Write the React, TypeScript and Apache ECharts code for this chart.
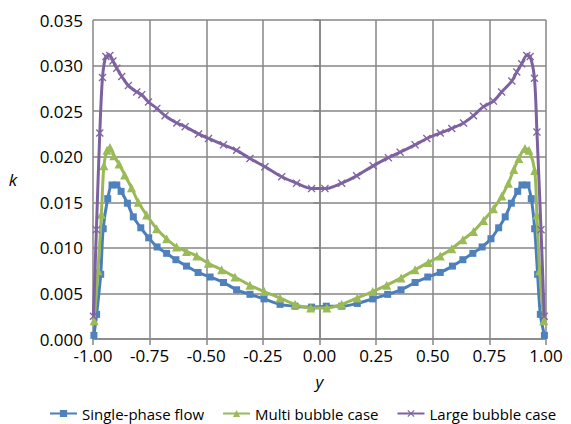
import React, { useEffect, useRef } from "react";
import * as echarts from "echarts";

const singleY = [-0.996, -0.984, -0.966, -0.955, -0.935, -0.916, -0.895, -0.876, -0.848, -0.822, -0.789, -0.754, -0.717, -0.675, -0.634, -0.587, -0.536, -0.483, -0.424, -0.366, -0.307, -0.245, -0.174, -0.108, -0.035, 0.03, 0.098, 0.167, 0.235, 0.301, 0.36, 0.422, 0.478, 0.533, 0.587, 0.633, 0.677, 0.718, 0.757, 0.791, 0.82, 0.847, 0.875, 0.894, 0.916, 0.935, 0.95, 0.963, 0.975, 0.993];
const singleK = [0.0004, 0.0027, 0.0071, 0.0121, 0.0154, 0.0169, 0.0169, 0.0162, 0.0149, 0.0134, 0.0122, 0.0111, 0.0101, 0.0094, 0.0087, 0.008, 0.0073, 0.0068, 0.0062, 0.0054, 0.0049, 0.0044, 0.0038, 0.0036, 0.0035, 0.0036, 0.0036, 0.0039, 0.0044, 0.0049, 0.0054, 0.0062, 0.0068, 0.0073, 0.008, 0.0087, 0.0094, 0.0101, 0.011, 0.0122, 0.0134, 0.0149, 0.0162, 0.0169, 0.0169, 0.0154, 0.0121, 0.0071, 0.0027, 0.0004];

const multiY = [-0.995, -0.978, -0.963, -0.952, -0.938, -0.925, -0.908, -0.885, -0.86, -0.83, -0.8, -0.763, -0.719, -0.675, -0.631, -0.587, -0.542, -0.491, -0.432, -0.373, -0.307, -0.244, -0.174, -0.108, -0.039, 0.032, 0.098, 0.167, 0.235, 0.297, 0.36, 0.422, 0.481, 0.533, 0.584, 0.633, 0.68, 0.724, 0.768, 0.805, 0.834, 0.858, 0.88, 0.907, 0.925, 0.95, 0.96, 0.972, 0.99];
const multiK = [0.002, 0.0075, 0.0137, 0.019, 0.0207, 0.021, 0.0201, 0.0192, 0.018, 0.0166, 0.015, 0.0136, 0.0121, 0.011, 0.0101, 0.0096, 0.0091, 0.0083, 0.0076, 0.0068, 0.0059, 0.0052, 0.0045, 0.0038, 0.0034, 0.0034, 0.0038, 0.0045, 0.0052, 0.0059, 0.0067, 0.0076, 0.0084, 0.0091, 0.0099, 0.0109, 0.0118, 0.013, 0.0143, 0.0157, 0.0171, 0.0186, 0.0198, 0.0209, 0.0207, 0.0185, 0.0136, 0.0075, 0.002];

const largeY = [-0.998, -0.985, -0.97, -0.958, -0.943, -0.926, -0.912, -0.895, -0.873, -0.844, -0.807, -0.785, -0.755, -0.718, -0.682, -0.63, -0.593, -0.534, -0.49, -0.424, -0.366, -0.307, -0.241, -0.167, -0.101, -0.035, 0.024, 0.098, 0.164, 0.237, 0.304, 0.356, 0.422, 0.474, 0.533, 0.584, 0.636, 0.68, 0.724, 0.768, 0.804, 0.849, 0.871, 0.893, 0.915, 0.93, 0.949, 0.96, 0.978, 0.992];
const largeK = [0.0025, 0.012, 0.0226, 0.0287, 0.031, 0.0311, 0.0305, 0.0297, 0.0288, 0.0278, 0.0271, 0.0268, 0.026, 0.0253, 0.0245, 0.0237, 0.0233, 0.0225, 0.022, 0.0213, 0.0207, 0.0198, 0.0189, 0.0178, 0.0171, 0.0165, 0.0165, 0.0171, 0.0179, 0.019, 0.0199, 0.0205, 0.0213, 0.022, 0.0226, 0.0231, 0.0237, 0.0245, 0.0255, 0.0261, 0.0271, 0.0283, 0.0293, 0.0302, 0.0311, 0.031, 0.0286, 0.0227, 0.012, 0.0025];

const seriesNames = ["Single-phase flow", "Multi bubble case", "Large bubble case"];

const pairs = (xs: number[], ys: number[]) => xs.map((x, i) => [x, ys[i]]);

const FONT = "Open Sans";
const crossPath =
  "path://M0,1.2 L1.2,0 L5,3.8 L8.8,0 L10,1.2 L6.2,5 L10,8.8 L8.8,10 L5,6.2 L1.2,10 L0,8.8 L3.8,5 Z";

export default function App() {
  const ref = useRef<HTMLDivElement>(null);
  useEffect(() => {
    if (!ref.current) return;
    const chart = echarts.init(ref.current, undefined, { renderer: "svg" });
    chart.setOption({
      animation: false,
      backgroundColor: "#ffffff",
      textStyle: { fontFamily: FONT },
      grid: { left: 93, right: 25, top: 20, bottom: 85, containLabel: false },
      legend: {
        bottom: 1,
        left: 47,
        right: 0,
        padding: 2,
        itemWidth: 27,
        itemHeight: 9,
        itemGap: 18,
        textStyle: { fontFamily: FONT, fontSize: 15, color: "#000" },
        data: seriesNames,
      },
      xAxis: {
        type: "value",
        min: -1,
        max: 1,
        interval: 0.25,
        name: "y",
        nameLocation: "middle",
        nameGap: 34,
        nameTextStyle: { fontFamily: FONT, fontSize: 17, fontStyle: "italic", color: "#000" },
        axisLine: { show: true, onZero: false, lineStyle: { color: "#868686", width: 1.5 } },
        axisTick: { show: true, inside: false, length: 6, lineStyle: { color: "#868686", width: 1.5 } },
        axisLabel: {
          fontFamily: FONT,
          fontSize: 17,
          color: "#000",
          margin: 8,
          formatter: (v: number) => v.toFixed(2),
        },
        splitLine: { show: true, lineStyle: { color: "#868686", width: 1.5 } },
      },
      yAxis: {
        type: "value",
        min: 0,
        max: 0.035,
        interval: 0.005,
        name: "k",
        nameLocation: "middle",
        nameRotate: 0,
        nameGap: 76,
        nameTextStyle: { fontFamily: FONT, fontSize: 17, fontStyle: "italic", color: "#000" },
        axisLine: { show: true, lineStyle: { color: "#868686", width: 1.5 } },
        axisTick: { show: true, inside: false, length: 6, lineStyle: { color: "#868686", width: 1.5 } },
        axisLabel: {
          fontFamily: FONT,
          fontSize: 17,
          color: "#000",
          margin: 10,
          formatter: (v: number) => v.toFixed(3),
        },
        splitLine: { show: true, lineStyle: { color: "#868686", width: 1.5 } },
      },
      series: [
        {
          name: seriesNames[0],
          type: "line",
          data: pairs(singleY, singleK),
          smooth: 0.3,
          symbol: "rect",
          symbolSize: 7,
          lineStyle: { color: "#4a7ebb", width: 3 },
          itemStyle: { color: "#4f81bd" },
          z: 3,
        },
        {
          name: seriesNames[1],
          type: "line",
          data: pairs(multiY, multiK),
          smooth: 0.3,
          symbol: "triangle",
          symbolSize: 9,
          lineStyle: { color: "#98b954", width: 3 },
          itemStyle: { color: "#9bbb59" },
          z: 4,
        },
        {
          name: seriesNames[2],
          type: "line",
          data: pairs(largeY, largeK),
          smooth: 0.3,
          symbol: crossPath,
          symbolSize: 8,
          lineStyle: { color: "#7d60a0", width: 3 },
          itemStyle: { color: "#8064a2" },
          z: 5,
        },
      ],
    });
    return () => chart.dispose();
  }, []);
  return <div ref={ref} style={{ width: 571, height: 424, position: "absolute", left: 0, top: 0 }} />;
}
